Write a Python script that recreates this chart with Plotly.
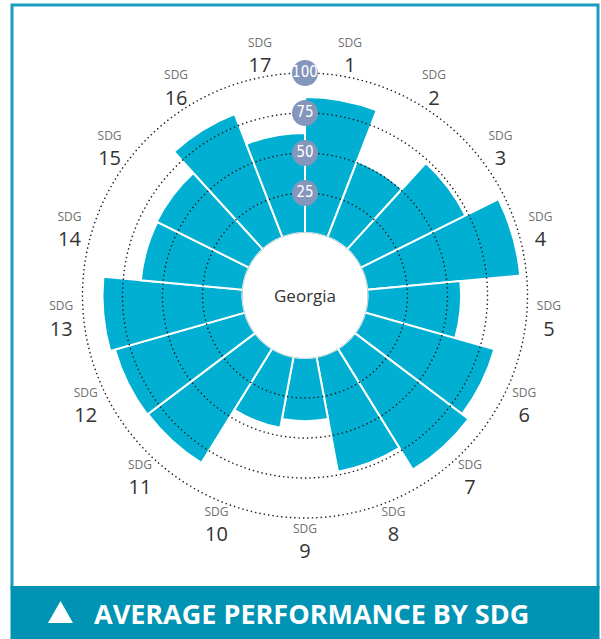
import numpy as np
import plotly.graph_objects as go

# ---- data ----
sdg_numbers = [str(i) for i in range(1, 18)]
scores = [85, 51, 73, 96, 58.5, 84, 89, 73, 39.5, 45, 84, 84.5, 87.5, 64, 64.5, 82.5, 62.5]
ring_levels = [25, 50, 75, 100]
ring_labels = ["25", "50", "75", "100"]
country = "Georgia"
banner_title = "AVERAGE PERFORMANCE BY SDG"

# ---- styles ----
BAR = "#00afd1"
BADGE = "#8596bc"
FRAME = "#1a9cbe"
BANNER = "#0093b4"
FONT = "Open Sans, Noto Sans, sans-serif"
NARROW = "DejaVu Sans Condensed, sans-serif"
LABEL_R = 114      # radial position of the SDG labels (outside the 100 ring)
R_MAX = 120        # radial axis extent, leaves room for the labels

n = len(scores)
step = 360 / n
centers = [step * (i + 0.5) for i in range(n)]
label_text = [
    f"<span style='font-size:12px;color:#707070'>SDG</span><br>"
    f"<span style='font-size:20px'>{s}</span>"
    for s in sdg_numbers
]

fig = go.Figure()

fig.add_trace(go.Barpolar(
    r=scores, theta=centers, width=[step] * n,
    marker=dict(color=BAR, line=dict(color="white", width=2)),
    hoverinfo="skip", showlegend=False,
))

ring_theta = np.linspace(0, 360, 721)
for lvl in ring_levels:
    fig.add_trace(go.Scatterpolar(
        r=[lvl] * len(ring_theta), theta=ring_theta, mode="lines",
        line=dict(color="#1a1a1a", width=1.4, dash="1.4px,3px"),
        hoverinfo="skip", showlegend=False, cliponaxis=False,
    ))

# hole edge
fig.add_trace(go.Scatterpolar(
    r=[0] * len(ring_theta), theta=ring_theta, mode="lines",
    line=dict(color="#b0b0b0", width=1),
    hoverinfo="skip", showlegend=False, cliponaxis=False,
))

# level badges
fig.add_trace(go.Scatterpolar(
    r=ring_levels, theta=[0] * len(ring_levels), mode="markers+text",
    text=ring_labels, textposition="middle center",
    textfont=dict(family=NARROW, size=15, color="white"),
    marker=dict(size=26, color=BADGE),
    hoverinfo="skip", showlegend=False, cliponaxis=False,
))

# SDG labels around the chart
fig.add_trace(go.Scatterpolar(
    r=[LABEL_R] * n, theta=centers, mode="text",
    text=label_text, textposition="middle center",
    textfont=dict(family=FONT, size=19.5, color="#333333"),
    hoverinfo="skip", showlegend=False, cliponaxis=False,
))

W, H = 601, 639
cx, cy = 305, 295.5          # pixel centre of the wheel
hole_px, px_per_unit = 62.5, 1.6
R = hole_px + px_per_unit * R_MAX

def px(x):
    return x / W

def py(y):
    return 1 - y / H

fig.update_layout(
    width=W, height=H,
    margin=dict(l=0, r=0, t=0, b=0),
    paper_bgcolor="white",
    font=dict(family=FONT),
    polar=dict(
        domain=dict(x=[px(cx - R), px(cx + R)], y=[py(cy + R), py(cy - R)]),
        bgcolor="rgba(0,0,0,0)",
        hole=hole_px / R,
        radialaxis=dict(range=[0, R_MAX], showgrid=False, showticklabels=False,
                        showline=False, ticks=""),
        angularaxis=dict(type="linear", thetaunit="degrees", rotation=90,
                         direction="clockwise", showgrid=False, showline=False,
                         ticks="", showticklabels=False),
    ),
    shapes=[
        dict(type="rect", xref="paper", yref="paper",
             x0=px(12), x1=px(598), y0=py(588), y1=py(5),
             line=dict(color=FRAME, width=3), fillcolor="rgba(0,0,0,0)"),
        dict(type="rect", xref="paper", yref="paper",
             x0=px(10.5), x1=px(599.5), y0=0, y1=py(586),
             line=dict(width=0), fillcolor=BANNER),
        dict(type="path", xref="paper", yref="paper",
             path=f"M {px(48)} {py(623)} L {px(73)} {py(623)} L {px(60.5)} {py(601)} Z",
             line=dict(width=0), fillcolor="white"),
    ],
    annotations=[
        dict(text=country, x=px(cx), y=py(cy), xref="paper", yref="paper",
             showarrow=False, font=dict(family=FONT, size=17, color="#333333")),
        dict(text="<b>" + banner_title + "</b>", x=px(92), y=py(613),
             xref="paper", yref="paper", xanchor="left", yanchor="middle", showarrow=False,
             font=dict(family=FONT, size=27, color="white")),
    ],
)

fig.write_html(
    "out.html",
    config={"displayModeBar": False},
    post_script="document.body.style.margin='0';document.body.style.overflow='hidden';",
)
